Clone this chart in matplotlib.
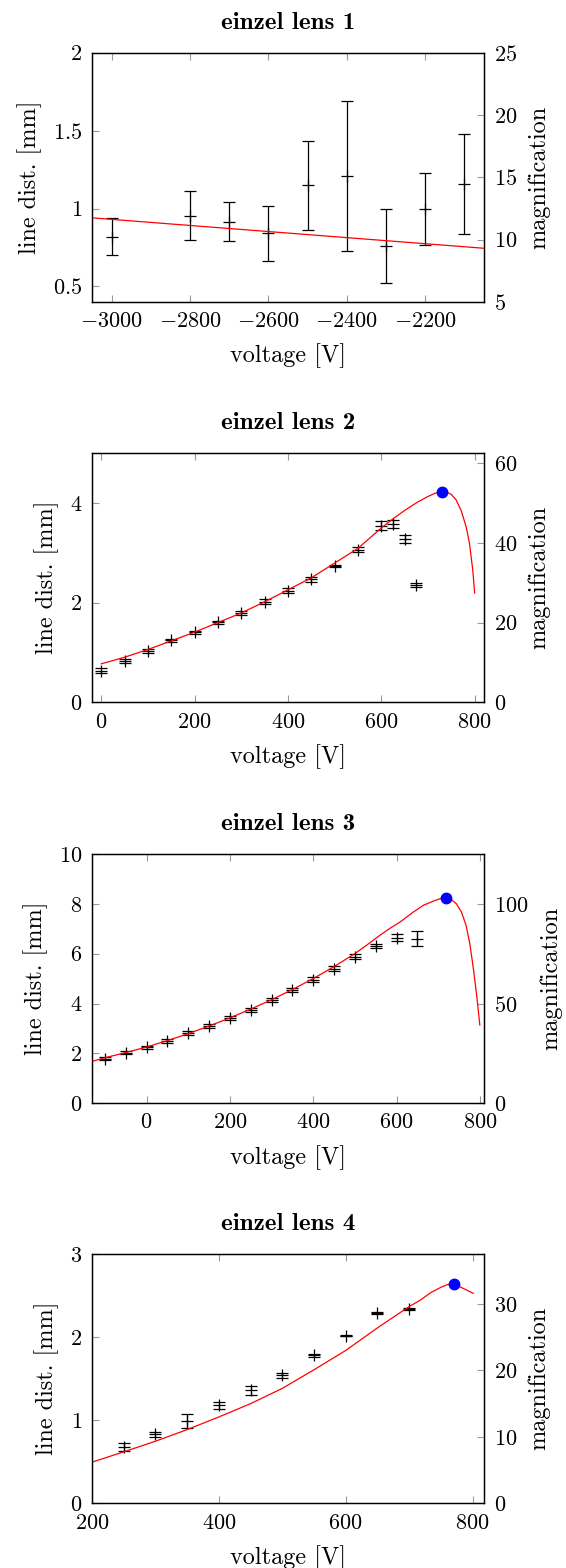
import matplotlib
matplotlib.use('Agg')
import matplotlib.pyplot as plt
from matplotlib.ticker import FuncFormatter

plt.rcParams.update({
    'font.family': 'cmr10',
    'mathtext.fontset': 'cm',
    'axes.formatter.use_mathtext': True,
    'font.size': 16,
    'axes.linewidth': 0.9,
})

# einzel lens 1
volt1 = [-3000, -2800, -2700, -2600, -2500, -2400, -2300, -2200, -2100]
dist1 = [0.82, 0.955, 0.915, 0.84, 1.15, 1.21, 0.76, 0.995, 1.157]
err1 = [0.12, 0.16, 0.125, 0.175, 0.285, 0.48, 0.24, 0.23, 0.32]
fit_v1 = [-3050, -2050]
fit_m1 = [11.75, 9.31]

# einzel lens 2
volt2 = [0, 50, 100, 150, 200, 250, 300, 350, 400, 450, 500, 550, 600, 625, 650, 675]
dist2 = [0.635, 0.83, 1.03, 1.24, 1.405, 1.606, 1.787, 2.02, 2.24, 2.47, 2.737, 3.058, 3.54, 3.574, 3.27, 2.36]
err2 = [0.055, 0.04, 0.04, 0.03, 0.03, 0.03, 0.035, 0.05, 0.05, 0.05, 0.02, 0.05, 0.09, 0.08, 0.08, 0.04]
fit_v2 = [0, 50, 100, 150, 200, 250, 300, 350, 400, 450, 500, 550, 600, 625, 650, 675, 700, 715,
          730, 740, 750, 760, 771, 782, 789, 796, 800]
fit_m2 = [9.65, 11.3, 13.25, 15.4, 17.6, 20.0, 22.4, 25.2, 28.2, 31.2, 34.9, 38.6, 43.7, 46.0, 48.1,
          50.0, 51.6, 52.4, 52.8, 52.7, 52.1, 50.8, 48.1, 43.9, 39.8, 33.1, 27.4]
peak_v2 = [730]
peak_m2 = [52.8]

# einzel lens 3
volt3 = [-100, -50, 0, 50, 100, 150, 200, 250, 300, 350, 400, 450, 500, 550, 600, 650]
dist3 = [1.79, 2.03, 2.24, 2.51, 2.80, 3.09, 3.41, 3.73, 4.13, 4.53, 4.96, 5.40, 5.88, 6.29, 6.64, 6.6]
err3 = [0.06, 0.06, 0.07, 0.08, 0.08, 0.08, 0.08, 0.08, 0.08, 0.08, 0.09, 0.1, 0.1, 0.08, 0.15, 0.29]
fit_v3 = [-131, -100, -50, 0, 50, 100, 150, 200, 250, 300, 350, 400, 450, 500, 530, 560, 585, 608,
          640, 664, 688, 704, 720, 732, 744, 756, 767, 776, 784, 792, 800]
fit_m3 = [21.0, 22.8, 25.4, 28.2, 31.4, 34.9, 38.7, 42.8, 47.2, 51.9, 57.0, 62.5, 68.5, 75.0, 79.5,
          84.2, 87.8, 90.8, 95.8, 99.2, 101.3, 102.5, 103.0, 102.0, 100.0, 95.8, 89.2, 80.0, 68.3,
          55.0, 39.2]
peak_v3 = [720]
peak_m3 = [103.0]

# einzel lens 4
volt4 = [250, 300, 350, 400, 450, 500, 550, 600, 650, 700]
dist4 = [0.68, 0.83, 0.99, 1.18, 1.36, 1.54, 1.78, 2.02, 2.29, 2.34]
err4 = [0.044, 0.03, 0.086, 0.046, 0.05, 0.03, 0.02, 0.01, 0.01, 0.01]
fit_v4 = [200, 250, 300, 350, 400, 450, 500, 550, 600, 650, 700, 718, 734, 750, 760, 770, 784, 801]
fit_m4 = [6.2, 7.75, 9.35, 11.1, 13.0, 15.0, 17.3, 20.1, 23.0, 26.4, 29.6, 30.6, 31.7, 32.5, 32.9,
          33.0, 32.4, 31.6]
peak_v4 = [770]
peak_m4 = [33.0]

panels = [
    # title, data, fit, peak, xlim, ylim, y2lim, xticks, yticks, y2ticks
    ('einzel lens 1', (volt1, dist1, err1), (fit_v1, fit_m1), None, (-3050, -2050), (0.4, 2.0), (5, 25),
     [-3000, -2800, -2600, -2400, -2200], [0.5, 1, 1.5, 2], [5, 10, 15, 20, 25]),
    ('einzel lens 2', (volt2, dist2, err2), (fit_v2, fit_m2), (peak_v2, peak_m2), (-20, 820), (0, 5), (0, 62.5),
     [0, 200, 400, 600, 800], [0, 2, 4], [0, 20, 40, 60]),
    ('einzel lens 3', (volt3, dist3, err3), (fit_v3, fit_m3), (peak_v3, peak_m3), (-131, 810), (0, 10), (0, 125),
     [0, 200, 400, 600, 800], [0, 2, 4, 6, 8, 10], [0, 50, 100]),
    ('einzel lens 4', (volt4, dist4, err4), (fit_v4, fit_m4), (peak_v4, peak_m4), (200, 818), (0, 3), (0, 37.5),
     [200, 400, 600, 800], [0, 1, 2, 3], [0, 10, 20, 30]),
]

bottoms = [0.8074, 0.5521, 0.2964, 0.0412]
height = 0.159
fmt = FuncFormatter(lambda v, p: f'${v:g}$')

fig = plt.figure(figsize=(5.66, 15.68), dpi=100)

for (title, data, fit, peak, xlim, ylim, y2lim, xt, yt, y2t), b in zip(panels, bottoms):
    ax = fig.add_axes([0.1625, b, 0.6926, height])
    ax.errorbar(data[0], data[1], yerr=data[2], fmt='+', color='black', ms=9, mew=0.9,
                elinewidth=0.9, capsize=4, capthick=0.9)
    ax.set_xlim(*xlim)
    ax.set_ylim(*ylim)
    ax.set_xticks(xt)
    ax.set_yticks(yt)
    ax.xaxis.set_major_formatter(fmt)
    ax.yaxis.set_major_formatter(fmt)
    ax.tick_params(direction='in', length=5, color='0.6', width=0.8, pad=7, top=True, right=False)
    ax.set_title(title, fontfamily='cmb10', fontsize=18, pad=17)
    ax.set_xlabel('voltage [V]', fontsize=17.5, labelpad=9)
    ax.set_ylabel('line dist. [mm]', fontsize=17.5, labelpad=8)

    ax2 = ax.twinx()
    ax2.plot(fit[0], fit[1], color='red', lw=0.9)
    if peak is not None:
        ax2.plot(peak[0], peak[1], 'o', color='blue', ms=7.5)
    ax2.set_ylim(*y2lim)
    ax2.set_yticks(y2t)
    ax2.yaxis.set_major_formatter(fmt)
    ax2.tick_params(direction='in', length=5, color='0.6', width=0.8, pad=7)
    ax2.set_ylabel('magnification', fontsize=17.5, labelpad=8)

fig.savefig('out.png', dpi=100)
